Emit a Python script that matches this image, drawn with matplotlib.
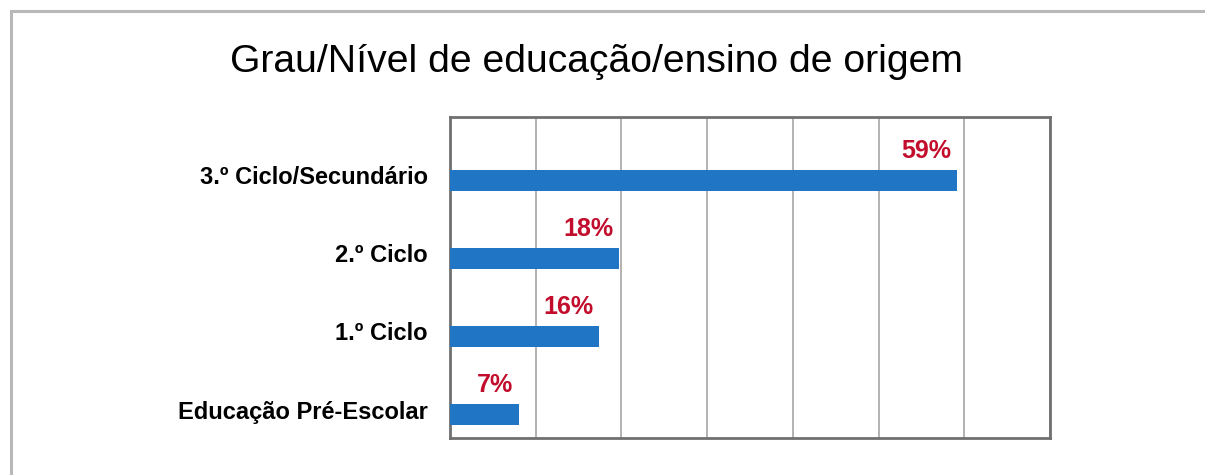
import matplotlib.pyplot as plt
from matplotlib.patches import Rectangle
from matplotlib.transforms import ScaledTranslation

# data
categories = ['Educação Pré-Escolar', '1.º Ciclo', '2.º Ciclo', '3.º Ciclo/Secundário']
bar_values = [8.0, 17.4, 19.7, 59.1]
value_labels = ['7%', '16%', '18%', '59%']
x_ticks = [0, 10, 20, 30, 40, 50, 60, 70]

bar_color = '#2075c5'
label_color = '#c20e2c'


def main():
    plt.rcParams['font.family'] = ['Liberation Sans', 'DejaVu Sans']
    fig = plt.figure(figsize=(12.05, 4.75), dpi=100)

    # light grey outer frame
    fig.patches.append(Rectangle((11 / 1205, -0.1), 1.2, 1.1 - 11 / 475,
                                 transform=fig.transFigure, fill=False,
                                 edgecolor='#b8b8b8', linewidth=2.2))

    ax = fig.add_axes([450 / 1205, 37 / 475, 600 / 1205, 321 / 475])
    y = list(range(len(categories)))
    ax.barh(y, bar_values, height=0.27, color=bar_color, zorder=3)

    ax.set_xlim(0, 70)
    ax.set_ylim(-0.30, 3.81)
    ax.set_xticks(x_ticks)
    ax.xaxis.grid(True, color='#a6a6a6', linewidth=1.2, zorder=0)
    ax.tick_params(axis='x', length=0, labelbottom=False)
    ax.tick_params(axis='y', length=0, pad=16)
    ax.set_yticks(y)
    ax.set_yticklabels(categories, fontsize=17, fontweight='bold')
    shift = ScaledTranslation(0, 5 / 100, fig.dpi_scale_trans)
    for lab in ax.get_yticklabels():
        lab.set_transform(lab.get_transform() + shift)
    for sp in ax.spines.values():
        sp.set_color('#707070')
        sp.set_linewidth(2)

    for yi, v, t in zip(y, bar_values, value_labels):
        ax.annotate(t, (v, yi + 0.135), xytext=(-4, 5), textcoords='offset points',
                    ha='right', va='bottom', color=label_color,
                    fontsize=18, fontweight='bold', zorder=4)

    fig.text(596 / 1205, 1 - 62 / 475, 'Grau/Nível de educação/ensino de origem',
             ha='center', va='center', fontsize=28.2)

    fig.savefig('out.png', dpi=100)


if __name__ == '__main__':
    main()
